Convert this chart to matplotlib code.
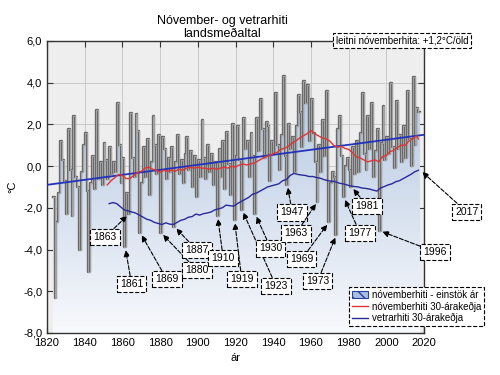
import numpy as np
import matplotlib
matplotlib.use('Agg')
import matplotlib.pyplot as plt
from matplotlib.colors import LinearSegmentedColormap
from matplotlib.patches import Patch
from matplotlib.lines import Line2D
from matplotlib.ticker import FuncFormatter

plt.rcParams['font.family'] = ['Liberation Sans', 'DejaVu Sans']

# nóvemberhiti, einstök ár (1823-2017)
years = np.arange(1823, 2018)
nov = [
    -1.5, -6.3, -2.7, -1.3, 1.2, 0.3, -0.7,                      # 1823-1829
    -2.3, 1.8, -0.2, -2.4, 2.4, -0.5, -1.0, -4.0, -0.3, 1.0,     # 1830-1839
    1.6, -1.2, -5.1, -0.8, 0.5, -1.1, 2.7, -0.6, 0.2, -0.9,      # 1840-1849
    1.1, 0.3, -0.6, 0.9, -0.4, 0.2, -0.3, 3.0, 1.0, -0.8,        # 1850-1859
    0.4, -3.9, -1.3, -2.3, 2.55, 0.4, -0.5, 2.5, 1.7, -3.2,      # 1860-1869
    -0.8, 0.9, -0.5, 1.3, -1.4, 0.2, 2.4, 1.0, -0.4, 1.5,        # 1870-1879
    -3.2, 1.4, 0.8, -0.6, 0.4, -0.3, 0.9, -2.9, 0.2, 1.5,        # 1880-1889
    -0.4, 0.3, -0.8, 0.6, 1.4, -0.2, 0.7, -1.0, 0.5, -1.5,       # 1890-1899
    0.3, -0.5, 2.2, 0.4, -0.6, 1.0, -0.3, 0.6, -0.9, 0.2,        # 1900-1909
    -2.4, 0.8, -0.5, 1.2, -1.1, 1.65, 0.1, -1.4, 2.0, -2.6,      # 1910-1919
    0.5, 1.9, 0.3, -2.1, 2.3, 0.8, 1.2, -0.5, 1.6, 0.5,          # 1920-1929
    -2.3, 2.3, 0.7, 3.2, 1.8, 0.4, 2.1, 1.9, -0.7, 1.2,          # 1930-1939
    0.6, 3.5, 1.0, -0.2, 1.5, 4.3, 0.5, -0.9, 2.0, 0.8,          # 1940-1949
    1.4, -0.3, 1.9, 3.4, 2.6, 0.9, 4.1, 3.0, 3.9, 1.2,           # 1950-1959
    3.2, 1.6, 0.2, -1.7, 1.0, -0.3, 2.2, 0.5, 3.6, -2.7,         # 1960-1969
    -0.8, -0.3, -0.5, -3.3, 1.8, 2.4, 0.5, -1.5, 0.0, 0.4,       # 1970-1979
    -0.2, -1.0, 0.9, -0.4, 1.2, -0.3, 1.6, 3.5, 0.6, -0.2,       # 1980-1989
    2.4, 0.8, 3.0, -0.5, 0.7, 1.8, -3.1, 1.1, 2.9, 0.3,          # 1990-1999
    1.4, 0.6, 4.0, 0.9, -0.1, 3.1, 0.8, 1.5, 0.2, 1.9,           # 2000-2009
    0.4, 3.6, 1.3, 0.0, 4.25, 1.0, 2.8, 2.6,                     # 2010-2017
]

# nóvemberhiti 30-árakeðja
red_years = [1852, 1854, 1856, 1858, 1860, 1862, 1864, 1866, 1868, 1870,
             1872, 1874, 1876, 1878, 1880, 1882, 1884, 1886, 1888, 1890,
             1892, 1894, 1896, 1898, 1900, 1902, 1904, 1906, 1908, 1910,
             1912, 1914, 1916, 1918, 1920, 1922, 1924, 1926, 1928, 1930,
             1932, 1934, 1936, 1938, 1940, 1942, 1944, 1946, 1948, 1950,
             1952, 1954, 1956, 1958, 1960, 1962, 1964, 1966, 1968, 1970,
             1972, 1974, 1976, 1978, 1980, 1982, 1984, 1986, 1988, 1990,
             1992, 1994, 1996, 1998, 2000, 2002, 2004, 2006, 2008, 2010,
             2012, 2014, 2016, 2017]
red_vals = [-0.9, -0.7, -0.55, -0.4, -0.45, -0.6, -0.6, -0.45, -0.3, -0.25,
            -0.1, -0.05, -0.15, -0.2, -0.3, -0.2, -0.25, -0.2, -0.25, -0.15,
            -0.2, -0.1, -0.05, -0.1, -0.05, -0.1, -0.1, -0.15, -0.1, -0.15,
            -0.1, -0.05, -0.1, 0.0, -0.05, 0.05, 0.1, 0.05, 0.1, 0.15,
            0.25, 0.35, 0.45, 0.5, 0.6, 0.65, 0.8, 0.85, 0.95, 1.1,
            1.2, 1.35, 1.45, 1.55, 1.7, 1.55, 1.45, 1.35, 1.3, 1.2,
            1.0, 0.9, 0.95, 0.85, 0.8, 0.65, 0.45, 0.4, 0.3, 0.2,
            0.25, 0.3, 0.2, 0.45, 0.5, 0.7, 0.75, 0.9, 1.0, 1.0,
            1.2, 1.3, 1.45, 1.3]

# vetrarhiti 30-árakeðja
win_years = [1853, 1855, 1857, 1859, 1861, 1863, 1865, 1867, 1869, 1871,
             1873, 1875, 1877, 1879, 1881, 1883, 1885, 1887, 1889, 1891,
             1893, 1895, 1897, 1899, 1901, 1903, 1905, 1907, 1909, 1911,
             1913, 1915, 1917, 1919, 1921, 1923, 1925, 1927, 1929, 1931,
             1933, 1935, 1937, 1939, 1941, 1943, 1945, 1947, 1949, 1951,
             1953, 1955, 1957, 1959, 1961, 1963, 1965, 1967, 1969, 1971,
             1973, 1975, 1977, 1979, 1981, 1983, 1985, 1987, 1989, 1991,
             1993, 1995, 1997, 1999, 2001, 2003, 2005, 2007, 2009, 2011,
             2013, 2015, 2017]
win_vals = [-1.8, -1.75, -1.8, -1.95, -2.1, -2.15, -2.2, -2.25, -2.35, -2.45,
            -2.55, -2.6, -2.7, -2.75, -2.8, -2.72, -2.78, -2.8, -2.7, -2.6,
            -2.55, -2.45, -2.42, -2.3, -2.35, -2.28, -2.25, -2.2, -2.1, -2.05,
            -2.0, -1.87, -1.9, -1.92, -1.8, -1.7, -1.6, -1.5, -1.35, -1.3,
            -1.2, -1.1, -1.0, -0.95, -0.9, -0.85, -0.7, -0.65, -0.45, -0.35,
            -0.4, -0.43, -0.45, -0.5, -0.5, -0.55, -0.58, -0.65, -0.7, -0.72,
            -0.75, -0.82, -0.85, -0.9, -0.95, -0.98, -1.0, -1.05, -1.07, -1.1,
            -1.15, -1.2, -1.05, -0.98, -0.9, -0.85, -0.75, -0.7, -0.6, -0.5,
            -0.4, -0.28, -0.2]

# leitni nóvemberhita
trend_years = [1820, 2020]
trend_vals = [-0.9, 1.5]

# merkt ár og staða merkimiða
note_years = [1861, 1863, 1869, 1880, 1887, 1910, 1919, 1923, 1930,
              1947, 1963, 1969, 1973, 1977, 1981, 1996, 2017]
note_pos = [(1864.9, -5.66), (1850.8, -3.40), (1883.5, -5.42), (1899.6, -4.99),
            (1899.6, -4.03), (1913.5, -4.42), (1923.3, -5.42), (1941.5, -5.75),
            (1938.7, -3.95), (1950.1, -2.22), (1952.1, -3.23), (1955.1, -4.46),
            (1963.6, -5.51), (1986.0, -3.20), (1989.9, -1.90), (2025.8, -4.11),
            (2042.6, -2.19)]

fig = plt.figure(figsize=(5, 3.75), dpi=100)
ax = fig.add_axes([0.094, 0.112, 0.754, 0.779])
ax.set_facecolor('#eeeeee')

# step line + gradient fill under it
xs = np.append(years, years[-1] + 1)
ys = np.append(nov, nov[-1])
poly = ax.fill_between(xs, ys, -8, step='post', color='none', lw=0)
cmap = LinearSegmentedColormap.from_list('g', ['#f8f9fc', '#a9bfdd'])
grad = np.linspace(0, 1, 256).reshape(-1, 1)
im = ax.imshow(grad, extent=[1820, 2020, -8, 6], origin='lower', aspect='auto',
               cmap=cmap, zorder=1)
im.set_clip_path(poly.get_paths()[0], ax.transData)

ax.step(xs, ys, where='post', color='#6a6a6a', lw=1.7, zorder=2)
ax.step(xs, ys, where='post', color='#a4a4a4', lw=0.7, zorder=2.1)

ax.plot(trend_years, trend_vals, color='#2233bb', lw=1.3, zorder=3)
ax.plot(red_years, red_vals, color='#e03535', lw=1.0, zorder=3)
ax.plot(win_years, win_vals, color='#2a2a9a', lw=1.0, zorder=3)

ax.set_xlim(1820, 2020)
ax.set_ylim(-8, 6)
ax.set_xticks(range(1820, 2021, 20))
ax.set_yticks(range(-8, 7, 2))
ax.yaxis.set_major_formatter(FuncFormatter(lambda v, p: f"{v:.1f}".replace('.', ',')))
ax.grid(color='#c4c4c4', lw=0.6, zorder=0)
ax.set_axisbelow(True)
ax.tick_params(direction='in', top=True, right=True, length=4, labelsize=8,
               color='#333333')
for s in ax.spines.values():
    s.set_color('#333333')
    s.set_linewidth(1.0)

ax.set_xlabel('ár', fontsize=8)
ax.set_ylabel('°C', fontsize=8)

# annotations
for yr, (tx, ty) in zip(note_years, note_pos):
    if yr == 2017:
        tip = (win_years[-1] + 1, win_vals[-1])
    else:
        tip = (yr + 0.5, nov[yr - years[0]])
    ax.annotate(str(yr), xy=tip, xytext=(tx, ty), fontsize=7.5,
                ha='center', va='center', annotation_clip=False, zorder=5,
                bbox=dict(boxstyle='square,pad=0.3', fc='white', ec='black',
                          ls='--', lw=0.8),
                arrowprops=dict(arrowstyle='-|>', ls='--', lw=0.8, color='black',
                                mutation_scale=9, shrinkA=0, shrinkB=2))

fig.text(0.444, 0.96, 'Nóvember- og vetrarhiti\nlandsmeðaltal', ha='center',
         va='top', fontsize=9, linespacing=1.1)
fig.text(0.804, 0.891, 'leitni nóvemberhita: +1,2°C/öld', ha='center',
         va='center', fontsize=7,
         bbox=dict(boxstyle='square,pad=0.25', fc='white', ec='black', ls='--',
                   lw=0.8))

handles = [Patch(facecolor='#a8c0e0', edgecolor='#2a3fa0', hatch='\\\\\\', lw=0.8),
           Line2D([], [], color='#e03535', lw=1.0),
           Line2D([], [], color='#2a2a9a', lw=1.0)]
labels = ['nóvemberhiti - einstök ár', 'nóvemberhiti 30-árakeðja',
          'vetrarhiti 30-árakeðja']
leg = fig.legend(handles, labels, loc='lower right', bbox_to_anchor=(0.978, 0.117),
                 fontsize=7, fancybox=False, framealpha=1, edgecolor='black',
                 handlelength=1.6, handletextpad=0.4, borderpad=0.3,
                 labelspacing=0.15)
leg.get_frame().set_linestyle('--')
leg.get_frame().set_linewidth(0.8)

fig.savefig('out.png', dpi=100)
